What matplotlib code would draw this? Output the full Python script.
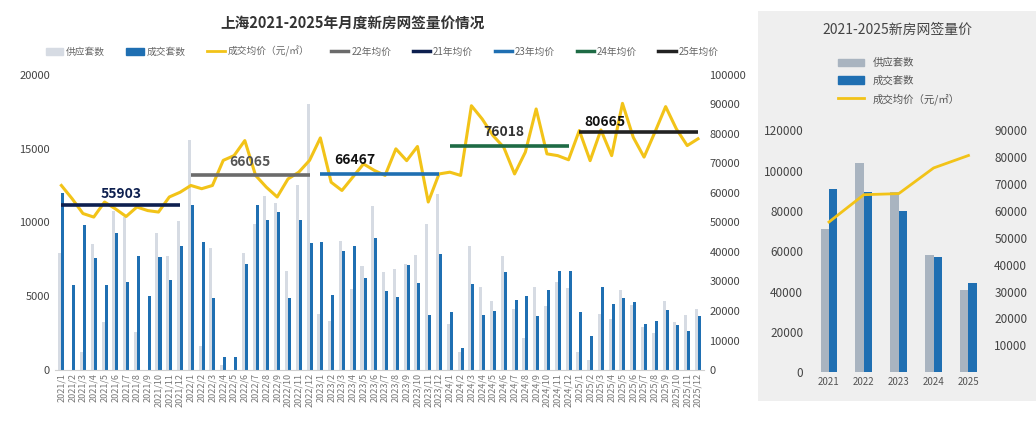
import matplotlib
matplotlib.use("Agg")
import matplotlib.pyplot as plt
import numpy as np
from matplotlib.lines import Line2D
from matplotlib.patches import Patch

plt.rcParams['font.family'] = ['Noto Sans CJK SC', 'DejaVu Sans']

months = [f"{y}/{m}" for y in range(2021, 2026) for m in range(1, 13)]
supply = [7900, 0, 1240, 8560, 3270, 10800, 10360, 2590, 0, 9280, 7700, 10090,
          15600, 1620, 8290, 340, 0, 7950, 9860, 11800, 11300, 6710, 12500, 18000,
          3830, 3310, 8710, 5470, 7050, 11080, 6640, 6820, 7160, 7790, 9910, 11900,
          3150, 1240, 8380, 5630, 4660, 7700, 4120, 2180, 5630, 4350, 5970, 5540,
          1240, 680, 3780, 3490, 5450, 4440, 2930, 2520, 4660, 3290, 3720, 4170]
sales = [12000, 5740, 9800, 7570, 5740, 9280, 5950, 7700, 5000, 7660, 6080, 8380,
         11200, 8650, 4860, 880, 880, 7160, 11200, 10180, 10670, 4900, 10180, 8600,
         8690, 5070, 8040, 8380, 6240, 8940, 5340, 4930, 7090, 5880, 3720, 7880,
         3920, 1490, 5810, 3740, 4000, 6620, 4750, 5040, 3670, 5400, 6690, 6710,
         3900, 2340, 5650, 4460, 4890, 4640, 3150, 3310, 4100, 3040, 2660, 3670]
price = [62500, 58000, 53000, 51800, 56900, 54600, 52000, 55200, 54000, 53500, 58600, 60200,
         62500, 61400, 62500, 71000, 72600, 77700, 65900, 61900, 58600, 64700, 67000, 71000,
         78600, 63600, 60800, 65300, 69800, 67600, 65900, 74900, 70900, 75700, 56900, 66400,
         67000, 65900, 89500, 85000, 79400, 75400, 66400, 73800, 88400, 73200, 72600, 71200,
         81100, 70900, 81300, 72600, 90300, 78800, 72100, 80500, 89200, 81600, 76000, 78300]
avg_labels = ["21年均价", "22年均价", "23年均价", "24年均价", "25年均价"]
avg_values = [55903, 66065, 66467, 76018, 80665]
avg_colors = ["#0d1f4f", "#6b6b6b", "#1f6fb2", "#1e6b45", "#222222"]

years = ["2021", "2022", "2023", "2024", "2025"]
y_supply = [71200, 103800, 89400, 58400, 40600]
y_sales = [90700, 89400, 79800, 57400, 44200]
y_price = avg_values

fig = plt.figure(figsize=(10.36, 4.22), dpi=100)
fig.patch.set_facecolor('white')

ax = fig.add_axes([0.053, 0.123, 0.627, 0.70])
x = np.arange(len(months))
w = 0.28
ax.bar(x - w/2, supply, w, color="#d6dbe3")
ax.bar(x + w/2, sales, w, color="#1f6fb2")
ax.set_xlim(-0.6, len(months) - 0.4)
ax.set_ylim(0, 20000)
ax.set_yticks(range(0, 20001, 5000))
ax.set_xticks(x)
ax.set_xticklabels(months, rotation=90, fontsize=6.5, color="#777777")
ax.tick_params(axis='y', labelsize=8, colors="#444444", length=0)
ax.tick_params(axis='x', length=0, pad=2)
for s in ax.spines.values():
    s.set_visible(False)
ax.spines['bottom'].set_visible(True)
ax.spines['bottom'].set_color("#d0d0d0")

ax2 = ax.twinx()
ax2.set_ylim(0, 100000)
ax2.set_yticks(range(0, 100001, 10000))
ax2.tick_params(axis='y', labelsize=8, colors="#444444", length=0)
for s in ax2.spines.values():
    s.set_visible(False)
ax2.plot(x, price, color="#f2c318", lw=2.2, solid_joinstyle='round')
label_pos = [(5.5, 59500, 'center', "#0d1f4f"), (17.5, 70500, 'center', "#555555"),
             (25.3, 71000, 'left', "#111111"), (41, 80500, 'center', "#333333"),
             (48.5, 84000, 'left', "#111111")]
for i, (v, c) in enumerate(zip(avg_values, avg_colors)):
    ax2.plot([12*i, 12*i + 11], [v, v], color=c, lw=2.6, solid_capstyle='butt')
    px, py, ha, tc = label_pos[i]
    ax2.text(px, py, str(v), ha=ha, va='center', fontsize=10, fontweight='bold', color=tc)

fig.text(0.34, 0.945, "上海2021-2025年月度新房网签量价情况", ha='center', va='center',
         fontsize=10.5, fontweight='bold', color="#333333")
handles = [Patch(color="#d6dbe3"), Patch(color="#1f6fb2"),
           Line2D([], [], color="#f2c318", lw=2)]
labels = ["供应套数", "成交套数", "成交均价（元/㎡）"]
order = [1, 0, 2, 3, 4]
for i in order:
    handles.append(Line2D([], [], color=avg_colors[i], lw=2.5))
    labels.append(avg_labels[i])
fig.legend(handles, labels, loc='center', bbox_to_anchor=(0.369, 0.878), ncol=8,
           frameon=False, fontsize=7, handlelength=1.8, handletextpad=0.3,
           columnspacing=2.2, labelcolor="#666666")

# right panel
bg = fig.add_axes([0.732, 0.05, 0.268, 0.925])
bg.set_facecolor("#efefef")
bg.set_xticks([]); bg.set_yticks([])
for s in bg.spines.values():
    s.set_visible(False)
bg.text(0.5, 0.95, "2021-2025新房网签量价", ha='center', va='center', fontsize=10,
        color="#444444", transform=bg.transAxes)

rx = fig.add_axes([0.78, 0.118, 0.175, 0.573])
rx.patch.set_alpha(0)
xi = np.arange(len(years))
rw = 0.24
rx.bar(xi - rw/2, y_supply, rw, color="#a9b4c0", label="供应套数")
rx.bar(xi + rw/2, y_sales, rw, color="#1f6fb2", label="成交套数")
rx.set_ylim(0, 120000)
rx.set_yticks(range(0, 120001, 20000))
rx.set_xlim(-0.6, 4.6)
rx.set_xticks(xi)
rx.set_xticklabels(years, fontsize=7, color="#555555")
rx.tick_params(axis='y', labelsize=8.5, colors="#444444", length=0)
rx.tick_params(axis='x', length=0)
for s in rx.spines.values():
    s.set_visible(False)
rx2 = rx.twinx()
rx2.set_ylim(0, 90000)
rx2.set_yticks(range(0, 90001, 10000))
rx2.set_yticklabels([""] + [str(v) for v in range(10000, 90001, 10000)])
rx2.tick_params(axis='y', labelsize=8.5, colors="#444444", length=0)
for s in rx2.spines.values():
    s.set_visible(False)
rx2.plot(xi, y_price, color="#f2c318", lw=2, label="成交均价（元/㎡）")
rh = [Patch(color="#a9b4c0"), Patch(color="#1f6fb2"), Line2D([], [], color="#f2c318", lw=2)]
fig.legend(rh, ["供应套数", "成交套数", "成交均价（元/㎡）"], loc='upper left',
           bbox_to_anchor=(0.80, 0.885), frameon=False, fontsize=7.5, labelspacing=0.7,
           handlelength=2.5, labelcolor="#555555")

fig.savefig("out.png", dpi=100)
